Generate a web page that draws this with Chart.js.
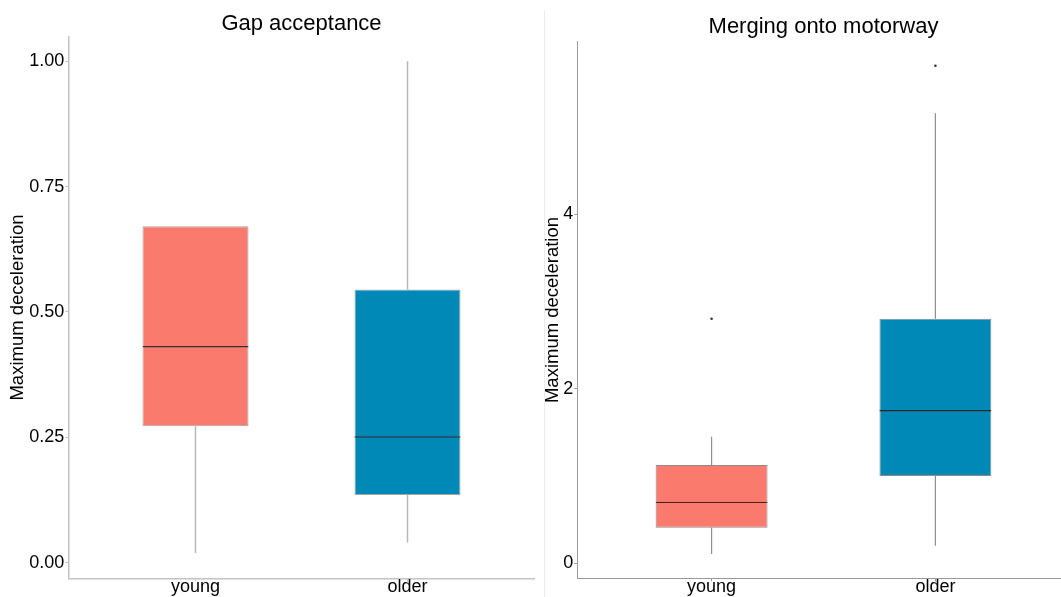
<!DOCTYPE html>
<html><head><meta charset="utf-8">
<script src="https://cdn.jsdelivr.net/npm/chart.js@4/dist/chart.umd.min.js"></script>
<style>
html,body{margin:0;padding:0;background:#fff;overflow:hidden;width:1061px;height:597px;position:relative;}
#c1{position:absolute;left:0;top:0;width:540px;height:597px;}
#c2{position:absolute;left:543px;top:0;width:535px;height:597px;}
#sep{position:absolute;left:544px;top:10px;width:0;height:587px;border-left:1px solid #ececec;}
</style></head><body>
<canvas id="c1" width="540" height="597"></canvas>
<div id="sep"></div>
<canvas id="c2" width="535" height="597"></canvas>
<script>
// ---------- data ----------
const categories = ['young', 'older'];

const gapTitle = 'Gap acceptance';
const gapQ1 = [0.272, 0.135];
const gapMedian = [0.432, 0.252];
const gapQ3 = [0.671, 0.545];
const gapLow = [0.019, 0.040];
const gapHigh = [0.671, 1.000];
const gapOutliers = [null, null];
const gapTicks = [0, 0.25, 0.5, 0.75, 1.0];

const mergeTitle = 'Merging onto motorway';
const mergeQ1 = [0.408, 1.001];
const mergeMedian = [0.706, 1.757];
const mergeQ3 = [1.127, 2.803];
const mergeLow = [0.107, 0.202];
const mergeHigh = [1.451, 5.158];
const mergeOutliers = [2.803, 5.703];
const mergeTicks = [0, 2, 4];

const yTitle = 'Maximum deceleration';
const fillColors = ['#FA7A6E', '#0089B7'];

// ---------- helpers ----------
const FONT = "'Liberation Sans', Arial, sans-serif";
const pts = (arrA, arrB) => categories.map((c, i) => ({x: i + 1, y: [arrA[i], arrB[i]]}));

function makeChart(id, cfg) {
  const barCommon = {type: 'bar', grouped: false, categoryPercentage: 1, barPercentage: 0.5, borderSkipped: false};
  const outl = cfg.outliers.map((v, i) => v == null ? null : {x: i + 1, y: v}).filter(p => p);
  return new Chart(document.getElementById(id), {
    type: 'bar',
    data: {
      datasets: [
        Object.assign({}, barCommon, {data: pts(cfg.low, cfg.q1), backgroundColor: cfg.whiskerColor, maxBarThickness: cfg.whiskerWidth, borderWidth: 0, order: 3}),
        Object.assign({}, barCommon, {data: pts(cfg.q3, cfg.high), backgroundColor: cfg.whiskerColor, maxBarThickness: cfg.whiskerWidth, borderWidth: 0, order: 3}),
        Object.assign({}, barCommon, {data: pts(cfg.q1, cfg.q3), backgroundColor: fillColors, borderColor: cfg.boxBorder, borderWidth: 1, order: 2}),
        Object.assign({}, barCommon, {data: pts(cfg.q1, cfg.median), backgroundColor: 'rgba(0,0,0,0)', borderColor: cfg.medianColor, borderWidth: {top: 1.3, bottom: 0, left: 0, right: 0}, order: 1}),
        {type: 'scatter', data: outl, pointRadius: 1.3, pointBackgroundColor: '#333', pointBorderWidth: 0, order: 0}
      ]
    },
    options: {
      responsive: false,
      animation: false,
      events: [],
      layout: {padding: {left: 0, right: cfg.padRight, top: 0, bottom: 0}},
      plugins: {
        legend: {display: false},
        tooltip: {enabled: false},
        title: {
          display: true, text: cfg.title, fullSize: false, color: '#000',
          font: {family: FONT, size: 22, weight: 'normal', lineHeight: 1},
          padding: {top: cfg.titleTop, bottom: cfg.titleBottom}
        }
      },
      scales: {
        x: {
          type: 'linear', min: 0.4, max: 2.6, offset: false,
          afterFit: s => { s.height = 18.7; },
          afterBuildTicks: s => { s.ticks = categories.map((c, i) => ({value: i + 1})); },
          ticks: {callback: v => categories[v - 1], color: '#000', font: {family: FONT, size: 18, lineHeight: 1}, padding: -3, autoSkip: false, maxRotation: 0},
          grid: {display: true, offset: false, drawOnChartArea: false, drawTicks: true, tickLength: 3, color: cfg.axisColor, lineWidth: 1},
          border: {display: true, color: cfg.axisColor, width: cfg.axisWidth}
        },
        y: {
          type: 'linear', min: cfg.yMin, max: cfg.yMax,
          afterFit: s => { s.width = cfg.yAxisWidth; },
          afterBuildTicks: s => { s.ticks = cfg.ticks.map(v => ({value: v})); },
          ticks: {callback: cfg.tickFmt, color: '#000', font: {family: FONT, size: 18}, padding: 1},
          grid: {display: true, drawOnChartArea: false, drawTicks: true, tickLength: 3, color: cfg.axisColor, lineWidth: 1},
          border: {display: true, color: cfg.axisColor, width: cfg.axisWidth},
          title: {display: true, text: yTitle, color: '#000', font: {family: FONT, size: 18.5, lineHeight: 1}, padding: {top: cfg.yTitlePad, bottom: 0}}
        }
      }
    }
  });
}

makeChart('c1', {
  title: gapTitle, q1: gapQ1, median: gapMedian, q3: gapQ3, low: gapLow, high: gapHigh, outliers: gapOutliers,
  ticks: gapTicks, tickFmt: v => v.toFixed(2), yMin: -0.0313, yMax: 1.049,
  padRight: 5.3, titleTop: 13, titleBottom: 1.7, yAxisWidth: 68.3, yTitlePad: 8.75,
  whiskerColor: '#b8b8b8', whiskerWidth: 1.5, boxBorder: 'rgba(0,0,0,0.35)', medianColor: '#333',
  axisColor: '#c4c4c4', axisWidth: 1.5
});

makeChart('c2', {
  title: mergeTitle, q1: mergeQ1, median: mergeMedian, q3: mergeQ3, low: mergeLow, high: mergeHigh, outliers: mergeOutliers,
  ticks: mergeTicks, tickFmt: v => String(v), yMin: -0.172, yMax: 5.978,
  padRight: 8.3, titleTop: 16, titleBottom: 3.7, yAxisWidth: 34.3, yTitlePad: 0.75,
  whiskerColor: '#8f8f8f', whiskerWidth: 1.2, boxBorder: 'rgba(0,0,0,0.45)', medianColor: 'rgba(40,20,20,0.85)',
  axisColor: '#9a9a9a', axisWidth: 1
});
</script>
</body></html>
